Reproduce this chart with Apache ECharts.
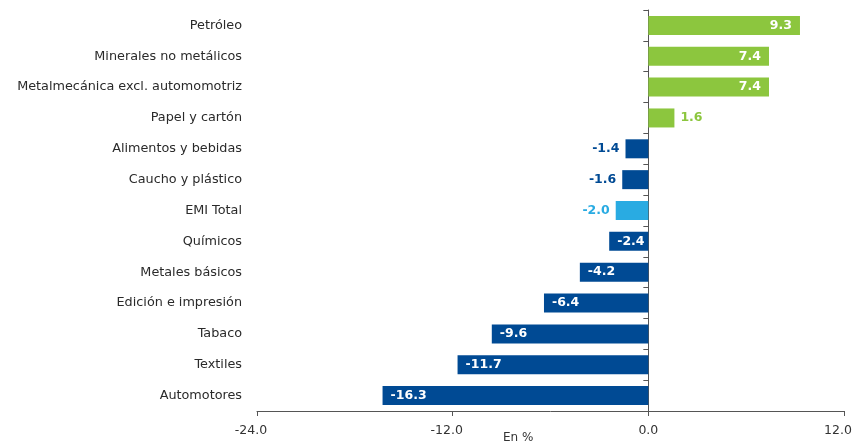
<!DOCTYPE html>
<html>
<head>
<meta charset="utf-8">
<script src="https://cdn.jsdelivr.net/npm/echarts@6/dist/echarts.min.js"></script>
<style>
  html, body { margin: 0; padding: 0; background: #fff; }
  #chart { width: 857px; height: 444px; }
</style>
</head>
<body>
<div id="chart"></div>
<script>
// Industrial sectors, top to bottom
const categories = [
  'Petróleo',
  'Minerales no metálicos',
  'Metalmecánica excl. automomotriz',
  'Papel y cartón',
  'Alimentos y bebidas',
  'Caucho y plástico',
  'EMI Total',
  'Químicos',
  'Metales básicos',
  'Edición e impresión',
  'Tabaco',
  'Textiles',
  'Automotores'
];
// Variation in %
const values = [9.3, 7.4, 7.4, 1.6, -1.4, -1.6, -2.0, -2.4, -4.2, -6.4, -9.6, -11.7, -16.3];
const totalCategory = 'EMI Total';
const xTicks = { min: -24, max: 12, interval: 12 };
const axisName = 'En %';

const GREEN = '#8cc63e';
const NAVY = '#004a94';
const SKY = '#29abe2';
const FONT = '"DejaVu Sans", "Open Sans", sans-serif';

const seriesData = values.map((v, i) => {
  const isTotal = categories[i] === totalCategory;
  const color = isTotal ? SKY : (v >= 0 ? GREEN : NAVY);
  const small = Math.abs(v) < 2.2;
  return {
    value: v,
    itemStyle: { color: color },
    label: {
      position: v >= 0 ? (small ? 'right' : 'insideRight') : (small ? 'left' : 'insideLeft'),
      distance: small ? 6 : 8,
      color: small ? color : '#ffffff'
    }
  };
});

const chart = echarts.init(document.getElementById('chart'), null, { renderer: 'canvas' });
chart.setOption({
  animation: false,
  backgroundColor: '#ffffff',
  grid: { left: 257, right: 13, top: 10, bottom: 33, containLabel: false },
  xAxis: {
    type: 'value',
    min: xTicks.min,
    max: xTicks.max,
    interval: xTicks.interval,
    splitLine: { show: false },
    axisLine: { show: true, onZero: false, lineStyle: { color: '#555', width: 1 } },
    axisTick: { show: true, length: 5, lineStyle: { color: '#555' } },
    axisLabel: {
      // non-zero labels sit slightly left of their tick (trailing padding)
      formatter: v => v === 0 ? '{z|' + v.toFixed(1) + '}' : '{n|' + v.toFixed(1) + '}',
      color: '#333',
      fontFamily: FONT,
      fontSize: 12.5,
      margin: 13,
      rich: {
        z: { color: '#333', fontFamily: FONT, fontSize: 12.5 },
        n: { color: '#333', fontFamily: FONT, fontSize: 12.5, padding: [0, 12, 0, 0] }
      }
    }
  },
  yAxis: [
    {
      type: 'category',
      data: categories,
      inverse: true,
      position: 'left',
      axisLine: { show: false, onZero: false },
      axisTick: { show: false },
      axisLabel: { color: '#2a2a2a', fontFamily: FONT, fontSize: 12.8, margin: 15 }
    },
    {
      type: 'category',
      data: categories,
      inverse: true,
      position: 'left',
      axisLine: { show: true, onZero: true, lineStyle: { color: '#555', width: 1 } },
      axisTick: { show: true, length: 5, lineStyle: { color: '#555' } },
      axisLabel: { show: false }
    }
  ],
  series: [{
    type: 'bar',
    yAxisIndex: 0,
    barWidth: 19,
    data: seriesData,
    label: {
      show: true,
      formatter: p => p.value.toFixed(1),
      fontFamily: FONT,
      fontWeight: 'bold',
      fontSize: 12.5
    }
  }],
  graphic: [{
    type: 'text',
    left: 503,
    top: 432,
    style: { text: axisName, fill: '#333', font: '12px ' + FONT }
  }]
});
</script>
</body>
</html>
